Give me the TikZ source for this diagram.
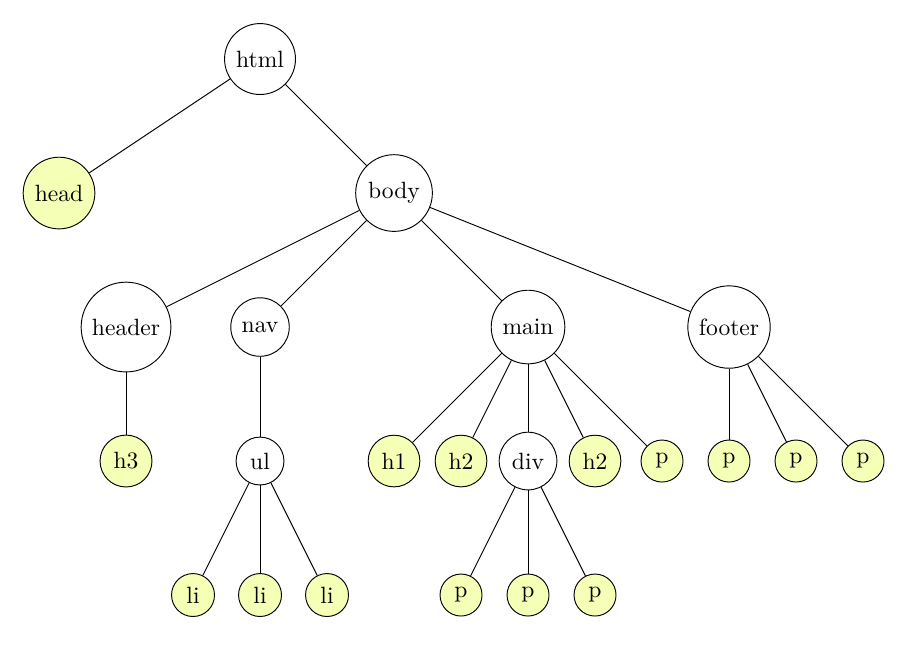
\documentclass[tikz,border=0pt]{standalone}
\begin{document}
\begin{tikzpicture}[
  tn/.style={circle,draw,thin},
  leaf/.style={tn,fill=leafc},
]
\definecolor{leafc}{rgb}{0.96,1,0.71}
\useasboundingbox (-0.881,0.881) rectangle (12.716,-8.731);
\node[tn] (html) at (3,0) {html};
\node[leaf] (head) at (0,-2) {head};
\node[tn] (body) at (5,-2) {body};
\node[tn] (header) at (1,-4) {header};
\node[tn] (nav) at (3,-4) {nav};
\node[tn] (main) at (7,-4) {main};
\node[tn] (footer) at (10,-4) {footer};
\node[leaf] (h3) at (1,-6) {h3};
\node[tn] (ul) at (3,-6) {ul};
\node[leaf] (h1) at (5,-6) {h1};
\node[leaf] (h2a) at (6,-6) {h2};
\node[tn] (div) at (7,-6) {div};
\node[leaf] (h2b) at (8,-6) {h2};
\node[leaf] (pm) at (9,-6) {p};
\node[leaf] (pf1) at (10,-6) {p};
\node[leaf] (pf2) at (11,-6) {p};
\node[leaf] (pf3) at (12,-6) {p};
\node[leaf] (li1) at (2,-8) {li};
\node[leaf] (li2) at (3,-8) {li};
\node[leaf] (li3) at (4,-8) {li};
\node[leaf] (pd1) at (6,-8) {p};
\node[leaf] (pd2) at (7,-8) {p};
\node[leaf] (pd3) at (8,-8) {p};
\draw (html) -- (head);
\draw (html) -- (body);
\draw (body) -- (header);
\draw (body) -- (nav);
\draw (body) -- (main);
\draw (body) -- (footer);
\draw (header) -- (h3);
\draw (nav) -- (ul);
\draw (main) -- (h1);
\draw (main) -- (h2a);
\draw (main) -- (div);
\draw (main) -- (h2b);
\draw (main) -- (pm);
\draw (footer) -- (pf1);
\draw (footer) -- (pf2);
\draw (footer) -- (pf3);
\draw (ul) -- (li1);
\draw (ul) -- (li2);
\draw (ul) -- (li3);
\draw (div) -- (pd1);
\draw (div) -- (pd2);
\draw (div) -- (pd3);
\end{tikzpicture}
\end{document}
